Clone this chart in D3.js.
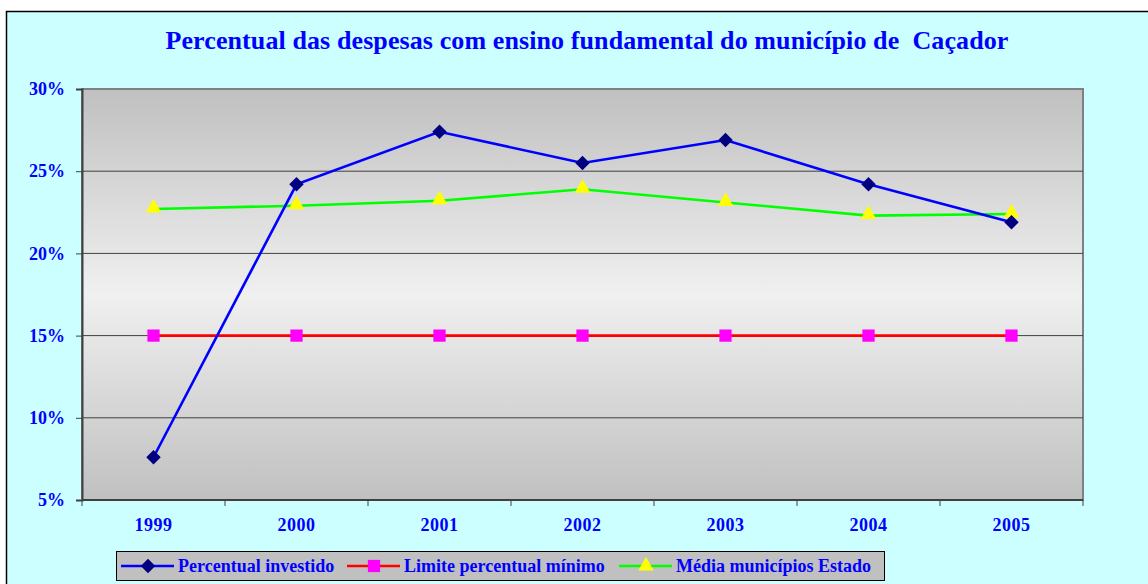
<!DOCTYPE html>
<html>
<head>
<meta charset="utf-8">
<script src="https://cdn.jsdelivr.net/npm/d3@7"></script>
<style>
  html, body { margin: 0; padding: 0; background: #fff; }
  svg { display: block; }
  text { font-family: "Liberation Serif", "Times New Roman", serif; font-weight: bold; fill: #0000ff; }
</style>
</head>
<body>
<svg width="1148" height="584"></svg>
<script>
// data
const years = ['1999', '2000', '2001', '2002', '2003', '2004', '2005'];
const investido = [7.6, 24.2, 27.4, 25.5, 26.9, 24.2, 21.9];
const limite = [15, 15, 15, 15, 15, 15, 15];
const mediaEstado = [22.7, 22.9, 23.2, 23.9, 23.1, 22.3, 22.4];
const yTicks = [5, 10, 15, 20, 25, 30];
const title = 'Percentual das despesas com ensino fundamental do município de  Caçador';

const svg = d3.select('svg');
const margin = {left: 82, top: 89, right: 65, bottom: 84};
const width = +svg.attr('width') - margin.left - margin.right;
const height = +svg.attr('height') - margin.top - margin.bottom;

// outer chart box
svg.append('rect')
  .attr('x', 6.5).attr('y', 11.5)
  .attr('width', 1160).attr('height', 600)
  .attr('fill', '#ccffff')
  .attr('stroke', '#000').attr('stroke-width', 1.5);

svg.append('text')
  .attr('x', 587).attr('y', 49)
  .attr('text-anchor', 'middle')
  .attr('font-size', '26px')
  .attr('letter-spacing', '0.1px')
  .style('white-space', 'pre')
  .text(title);

const defs = svg.append('defs');
const grad = defs.append('linearGradient')
  .attr('id', 'plotbg').attr('x1', 0).attr('y1', 0).attr('x2', 0).attr('y2', 1);
grad.append('stop').attr('offset', '0%').attr('stop-color', '#c0c0c0');
grad.append('stop').attr('offset', '50%').attr('stop-color', '#f0f0f0');
grad.append('stop').attr('offset', '100%').attr('stop-color', '#c0c0c0');

const xScale = d3.scaleBand()
  .domain(years)
  .range([0, width]);

const yScale = d3.scaleLinear()
  .domain([5, 30])
  .range([height, 0]);

const g = svg.append('g')
  .attr('transform', `translate(${margin.left},${margin.top})`);

g.append('rect')
  .attr('width', width).attr('height', height)
  .attr('fill', 'url(#plotbg)')
  .attr('stroke', '#808080').attr('stroke-width', 2);

// gridlines
g.selectAll('.grid')
  .data(yTicks.filter(t => t > 5 && t < 30))
  .enter().append('line')
    .attr('x1', 0).attr('x2', width)
    .attr('y1', d => yScale(d)).attr('y2', d => yScale(d))
    .attr('stroke', '#404040').attr('stroke-width', 1);

// y axis
const yAxis = d3.axisLeft(yScale)
  .tickValues(yTicks)
  .tickFormat(d => d + '%')
  .tickSize(6)
  .tickPadding(11);
const yAxisG = g.append('g').call(yAxis);
yAxisG.select('.domain').attr('stroke', '#404040').attr('stroke-width', 2);
yAxisG.selectAll('.tick line').attr('stroke', '#404040');
yAxisG.selectAll('text')
  .attr('font-size', '18px')
  .attr('fill', '#0000ff')
  .attr('font-family', '"Liberation Serif", serif');

// x axis: ticks between categories
const xAxisG = g.append('g')
  .attr('transform', `translate(0,${height})`);
xAxisG.append('line')
  .attr('x1', 0).attr('x2', width)
  .attr('stroke', '#404040').attr('stroke-width', 2);
const edges = years.map(y => xScale(y)).concat([width]);
xAxisG.selectAll('.xt')
  .data(edges).enter().append('line')
    .attr('x1', d => d).attr('x2', d => d)
    .attr('y1', 0).attr('y2', 6)
    .attr('stroke', '#404040');
xAxisG.selectAll('.xl')
  .data(years).enter().append('text')
    .attr('x', d => xScale(d) + xScale.bandwidth() / 2)
    .attr('y', 31)
    .attr('text-anchor', 'middle')
    .attr('font-size', '18px')
    .attr('letter-spacing', '0.5px')
    .text(d => d);

const cx = (d, i) => xScale(years[i]) + xScale.bandwidth() / 2;
const line = d3.line().x(cx).y(d => yScale(d));

const series = [
  {name: 'Percentual investido', values: investido, color: '#0000ff', marker: 'diamond', fill: '#000080'},
  {name: 'Limite percentual mínimo', values: limite, color: '#ff0000', marker: 'square', fill: '#ff00ff'},
  {name: 'Média municípios Estado', values: mediaEstado, color: '#00ff00', marker: 'triangle', fill: '#ffff00'}
];

const symbols = {
  diamond: d3.symbol().type(d3.symbolSquare).size(105),
  square: d3.symbol().type(d3.symbolSquare).size(150),
  triangle: d3.symbol().type(d3.symbolTriangle).size(105)
};
const markerRot = m => m === 'diamond' ? ' rotate(45)' : '';

// draw lines: last series first so blue sits on top like the original
[series[2], series[1], series[0]].forEach(s => {
  g.append('path')
    .datum(s.values)
    .attr('fill', 'none')
    .attr('stroke', s.color)
    .attr('stroke-width', 2.6)
    .attr('d', line);
  g.selectAll(null)
    .data(s.values).enter().append('path')
      .attr('d', symbols[s.marker])
      .attr('fill', s.fill)
      .attr('transform', (d, i) => `translate(${cx(d, i)},${yScale(d) + (s.marker === 'triangle' ? -1 : 0)})${markerRot(s.marker)}`);
});

// legend
const legend = svg.append('g');
legend.append('rect')
  .attr('x', 116.5).attr('y', 551.5)
  .attr('width', 768).attr('height', 29)
  .attr('fill', '#c0c0c0')
  .attr('stroke', '#000').attr('stroke-width', 1);
const legendX = [121, 347, 619];
series.forEach((s, i) => {
  const lx = legendX[i];
  legend.append('line')
    .attr('x1', lx).attr('x2', lx + 53)
    .attr('y1', 566).attr('y2', 566)
    .attr('stroke', s.color).attr('stroke-width', 2.6);
  legend.append('path')
    .attr('d', symbols[s.marker])
    .attr('fill', s.fill)
    .attr('transform', `translate(${lx + 27},566)${markerRot(s.marker)}`);
  legend.append('text')
    .attr('x', lx + 57).attr('y', 572)
    .attr('font-size', '18px')
    .text(s.name);
});
</script>
</body>
</html>
